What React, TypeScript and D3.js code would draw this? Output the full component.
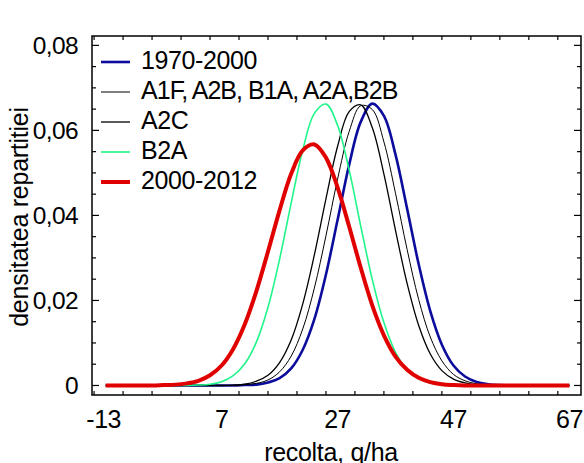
import React from "react";
import * as d3 from "d3";

const xGrid = [-13, -11, -9, -7, -5, -3, -1, 1, 3, 5, 7, 9, 11, 13, 15, 17, 19, 21, 23, 25, 27, 29, 31, 33, 35, 37, 39, 41, 43, 45, 47, 49, 51, 53, 55, 57, 59, 61, 63, 65, 67];

const blue1970 = [0, 0, 0, 0, 0, 0, 0, 0, 0, 0, 0, 0, 0.0001, 0.0002, 0.0007, 0.0017, 0.004, 0.0084, 0.0156, 0.0261, 0.0389, 0.0519, 0.062, 0.0663, 0.0634, 0.0543, 0.0416, 0.0285, 0.0175, 0.0096, 0.0047, 0.0021, 0.0008, 0.0003, 0.0001, 0, 0, 0, 0, 0, 0];
const blackA1F = [0, 0, 0, 0, 0, 0, 0, 0, 0, 0, 0, 0, 0.0002, 0.0005, 0.0013, 0.0032, 0.0069, 0.0133, 0.0229, 0.0352, 0.0485, 0.0597, 0.0658, 0.0649, 0.0573, 0.0452, 0.032, 0.0202, 0.0114, 0.0058, 0.0026, 0.0011, 0.0004, 0.0001, 0, 0, 0, 0, 0, 0, 0];
const blackA2C = [0, 0, 0, 0, 0, 0, 0, 0, 0, 0, 0, 0.0001, 0.0003, 0.001, 0.0024, 0.0054, 0.0107, 0.0192, 0.0307, 0.0439, 0.0562, 0.0644, 0.066, 0.0606, 0.0497, 0.0365, 0.024, 0.0141, 0.0074, 0.0035, 0.0015, 0.0006, 0.0002, 0.0001, 0, 0, 0, 0, 0, 0, 0];
const greenB2A = [0, 0, 0, 0, 0, 0, 0, 0, 0.0001, 0.0003, 0.0009, 0.0023, 0.0051, 0.0102, 0.0184, 0.0297, 0.0429, 0.0554, 0.064, 0.0662, 0.0612, 0.0507, 0.0375, 0.0249, 0.0148, 0.0078, 0.0037, 0.0016, 0.0006, 0.0002, 0.0001, 0, 0, 0, 0, 0, 0, 0, 0, 0, 0];
const red2000 = [0, 0, 0, 0, 0, 0.0001, 0.0002, 0.0005, 0.0011, 0.0024, 0.0047, 0.0086, 0.0144, 0.0222, 0.0315, 0.0412, 0.0498, 0.0553, 0.0567, 0.0536, 0.0466, 0.0374, 0.0277, 0.0188, 0.0118, 0.0068, 0.0037, 0.0018, 0.0008, 0.0003, 0.0001, 0, 0, 0, 0, 0, 0, 0, 0, 0, 0];

const seriesNames = ["1970-2000", "A1F, A2B, B1A, A2A,B2B", "A2C", "B2A", "2000-2012"];
const xTickValues = [-13, 7, 27, 47, 67];
const yTickValues = [0, 0.02, 0.04, 0.06, 0.08];
const yTickLabels = ["0", "0,02", "0,04", "0,06", "0,08"];
const xTitle = "recolta, q/ha";
const yTitle = "densitatea repartitiei";

const W = 584;
const H = 463;
const L = 92, R = 581, T = 36, B = 395;

export default function App() {
  const x = d3.scaleLinear().domain([-15.36, 69.0]).range([L, R]);
  const y = d3.scaleLinear().domain([-0.00224, 0.0822]).range([B, T]);
  const font = "'Liberation Sans', Arial, sans-serif";

  const styles = [
    { data: blue1970, color: "#0c0c9c", width: 2.6 },
    { data: blackA1F, color: "#000000", width: 1 },
    { data: blackA2C, color: "#000000", width: 1.3 },
    { data: greenB2A, color: "#1ff58a", width: 1.6 },
    { data: red2000, color: "#e00000", width: 4 },
  ];

  const line = d3
    .line<number>()
    .x((_, i) => x(xGrid[i]))
    .y((v) => y(v))
    .curve(d3.curveCatmullRom.alpha(0.5));

  const xMinor = d3.range(-15, 70, 5).filter((v) => v >= -15.36 && v <= 69);
  const yMinor = d3.range(0, 0.0821, 0.005);

  const legendY = [62, 92, 122, 152, 182];

  return (
    <svg width={W} height={H} style={{ position: "fixed", left: 0, top: 0, background: "#fff" }} fontFamily={font}>
      <rect x={0} y={0} width={W} height={H} fill="#fff" />
      <defs>
        <clipPath id="plot">
          <rect x={L} y={T} width={R - L} height={B - T} />
        </clipPath>
      </defs>
      {/* ticks */}
      {xMinor.map((v) => {
        const major = xTickValues.includes(v);
        const len = major ? 7 : 4;
        return (
          <g key={"xt" + v}>
            <line x1={x(v)} x2={x(v)} y1={B} y2={B - len} stroke="#000" strokeWidth={1.2} />
            <line x1={x(v)} x2={x(v)} y1={T} y2={T + len} stroke="#000" strokeWidth={1.2} />
          </g>
        );
      })}
      {yMinor.map((v, i) => {
        const major = i % 4 === 0;
        const len = major ? 7 : 4;
        return (
          <g key={"yt" + i}>
            <line x1={L} x2={L + len} y1={y(v)} y2={y(v)} stroke="#000" strokeWidth={1.2} />
            <line x1={R} x2={R - len} y1={y(v)} y2={y(v)} stroke="#000" strokeWidth={1.2} />
          </g>
        );
      })}
      {/* curves */}
      <g clipPath="url(#plot)">
        {styles.map((s, i) => (
          <path key={i} d={line(s.data) || ""} fill="none" stroke={s.color} strokeWidth={s.width} strokeLinejoin="round" />
        ))}
      </g>
      {/* frame */}
      <rect x={L} y={T} width={R - L} height={B - T} fill="none" stroke="#000" strokeWidth={1.5} />
      {/* tick labels */}
      {xTickValues.map((v) => (
        <text key={"xl" + v} x={x(v) - (v < 0 ? 2 : 0)} y={428} textAnchor="middle" fontSize={25} letterSpacing={-0.5}>
          {String(v)}
        </text>
      ))}
      {yTickValues.map((v, i) => (
        <text key={"yl" + i} x={78} y={y(v) + 8.5} textAnchor="end" fontSize={24.5} letterSpacing={-0.6}>
          {yTickLabels[i]}
        </text>
      ))}
      {/* titles */}
      <text x={331} y={461} textAnchor="middle" fontSize={25} letterSpacing={-0.3}>
        {xTitle}
      </text>
      <text transform={`translate(28, 217) rotate(-90)`} textAnchor="middle" fontSize={25} letterSpacing={-0.25}>
        {yTitle}
      </text>
      {/* legend */}
      {styles.map((s, i) => (
        <g key={"lg" + i}>
          <line x1={101} x2={130} y1={legendY[i]} y2={legendY[i]} stroke={s.color} strokeWidth={s.width} />
          <text
            x={141}
            y={legendY[i] + 6.5}
            fontSize={25}
            letterSpacing={-0.4}
            {...(i === 1 ? { textLength: 257, lengthAdjust: "spacing" } : {})}
          >
            {seriesNames[i]}
          </text>
        </g>
      ))}
    </svg>
  );
}
